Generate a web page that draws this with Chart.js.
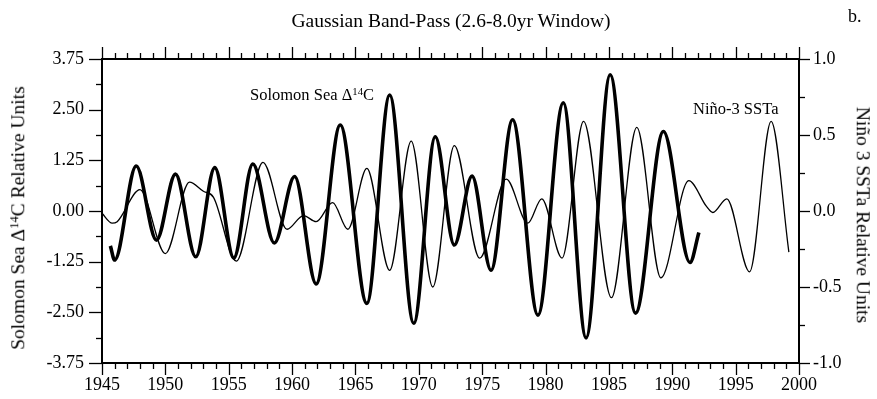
<!DOCTYPE html>
<html>
<head>
<meta charset="utf-8">
<script src="https://cdn.jsdelivr.net/npm/chart.js@4/dist/chart.umd.min.js"></script>
<style>
  html, body { margin: 0; padding: 0; background: #fff; }
  #wrap { position: relative; width: 877px; height: 399px; overflow: hidden; font-family: "Liberation Serif", "Times New Roman", serif; color: #000; }
  #c { position: absolute; left: 0; top: 0; }
  .t { position: absolute; white-space: nowrap; line-height: 1; }
  sup { font-size: 0.65em; vertical-align: 0.45em; line-height: 0; }
</style>
</head>
<body>
<div id="wrap">
  <canvas id="c" width="877" height="399"></canvas>
  <div class="t" id="title" style="left:451px; top:21px; transform:translate(-50%,-50%); font-size:19.5px;">Gaussian Band-Pass (2.6-8.0yr Window)</div>
  <div class="t" style="left:848px; top:7px; font-size:18px;">b.</div>
  <div class="t" style="left:18px; top:218px; transform:translate(-50%,-50%) rotate(-90deg); font-size:19.5px;">Solomon Sea Δ<sup>14</sup>C Relative Units</div>
  <div class="t" style="left:863px; top:215px; transform:translate(-50%,-50%) rotate(90deg); font-size:19.5px;">Niño 3 SSTa Relative Units</div>
  <div class="t" style="left:250px; top:87px; font-size:16.5px;">Solomon Sea Δ<sup>14</sup>C</div>
  <div class="t" style="left:693px; top:101px; font-size:16.5px;">Niño-3 SSTa</div>
</div>
<script>
// ---- data ----
const solomonYears = [1945.66, 1946.0, 1947.7, 1949.3, 1950.8, 1952.4, 1953.9, 1955.4, 1956.9, 1958.6, 1960.2, 1961.9, 1963.8, 1965.9, 1967.7, 1969.6, 1971.3, 1972.8, 1974.2, 1975.7, 1977.4, 1979.4, 1981.4, 1983.2, 1985.1, 1987.1, 1989.3, 1991.4, 1992.1];
const solomonC14   = [-0.86, -1.21, 1.11, -0.72, 0.91, -1.13, 1.07, -1.16, 1.16, -0.79, 0.85, -1.80, 2.12, -2.28, 2.86, -2.77, 1.83, -0.84, 0.86, -1.46, 2.25, -2.57, 2.67, -3.13, 3.36, -2.52, 1.96, -1.27, -0.53];

const ninoYears = [1945.0, 1945.8, 1946.2, 1948.0, 1950.0, 1951.9, 1953.0, 1953.8, 1955.6, 1957.7, 1959.6, 1960.9, 1961.9, 1963.2, 1964.4, 1965.9, 1967.7, 1969.4, 1971.1, 1972.8, 1974.8, 1976.9, 1978.6, 1979.7, 1981.3, 1983.0, 1985.2, 1987.2, 1989.1, 1991.3, 1992.7, 1993.2, 1994.3, 1996.1, 1997.8, 1999.2];
const ninoSSTa  = [-0.015, -0.08, -0.07, 0.14, -0.28, 0.19, 0.13, 0.09, -0.33, 0.32, -0.12, -0.03, -0.07, 0.055, -0.12, 0.28, -0.39, 0.46, -0.50, 0.43, -0.31, 0.21, -0.08, 0.08, -0.31, 0.59, -0.57, 0.55, -0.44, 0.20, 0.03, -0.01, 0.08, -0.40, 0.59, -0.27];

// axis ranges / tick steps
const xRange = [1945, 2000], xMajor = 5, xMinor = 1;
const leftRange = [-3.75, 3.75], leftMajor = 1.25, leftMinor = 0.625;
const rightRange = [-1.0, 1.0], rightMajor = 0.5, rightMinor = 0.25;

const toPts = (xs, ys) => xs.map((x, i) => ({ x: x, y: ys[i] }));

Chart.defaults.font.family = '"Liberation Serif", "Times New Roman", serif';
Chart.defaults.font.size = 18;
Chart.defaults.color = '#000';

const frameTicks = {
  id: 'frameTicks',
  afterDraw(chart) {
    const { ctx, chartArea: a, scales } = chart;
    const x = scales.x, y = scales.y, y2 = scales.y2;
    ctx.save();
    ctx.strokeStyle = '#000';
    ctx.lineWidth = 1.3;
    const ln = (x1, y1, x2, y2_) => { ctx.beginPath(); ctx.moveTo(x1, y1); ctx.lineTo(x2, y2_); ctx.stroke(); };
    const eps = 1e-6;
    for (let i = 0; xRange[0] + i * xMinor <= xRange[1] + eps; i++) {
      const v = xRange[0] + i * xMinor;
      const px = Math.round(x.getPixelForValue(v)) + 0.5;
      const major = Math.abs((v - xRange[0]) / xMajor - Math.round((v - xRange[0]) / xMajor)) < eps;
      const L = major ? 12 : 6;
      ln(px, a.bottom, px, a.bottom + L);
      ln(px, a.top, px, a.top - L);
    }
    for (let i = 0; leftRange[0] + i * leftMinor <= leftRange[1] + eps; i++) {
      const v = leftRange[0] + i * leftMinor;
      const py = Math.round(y.getPixelForValue(v)) + 0.5;
      const major = i % 2 === 0;
      ln(a.left, py, a.left - (major ? 13 : 6), py);
    }
    for (let i = 0; rightRange[0] + i * rightMinor <= rightRange[1] + eps; i++) {
      const v = rightRange[0] + i * rightMinor;
      const py = Math.round(y2.getPixelForValue(v)) + 0.5;
      const major = i % 2 === 0;
      ln(a.right, py, a.right + (major ? 11 : 6), py);
    }
    ctx.lineWidth = 2;
    ctx.strokeRect(a.left, a.top, a.right - a.left, a.bottom - a.top);
    ctx.restore();
  }
};

new Chart(document.getElementById('c'), {
  type: 'line',
  data: {
    datasets: [
      {
        label: 'Solomon Sea Δ14C',
        data: toPts(solomonYears, solomonC14),
        yAxisID: 'y',
        borderColor: '#000',
        borderWidth: 3.6,
        pointRadius: 0,
        cubicInterpolationMode: 'monotone',
        fill: false
      },
      {
        label: 'Niño-3 SSTa',
        data: toPts(ninoYears, ninoSSTa),
        yAxisID: 'y2',
        borderColor: '#000',
        borderWidth: 1.3,
        pointRadius: 0,
        cubicInterpolationMode: 'monotone',
        fill: false
      }
    ]
  },
  options: {
    responsive: false,
    devicePixelRatio: 1,
    animation: false,
    layout: { padding: 0 },
    plugins: { legend: { display: false }, tooltip: { enabled: false }, title: { display: false } },
    scales: {
      x: {
        type: 'linear', position: 'bottom', min: xRange[0], max: xRange[1],
        grid: { display: false, drawTicks: false }, border: { display: false },
        ticks: { stepSize: xMajor, autoSkip: false, maxRotation: 0, padding: 11, callback: v => String(Math.round(v)) },
        afterFit: s => { s.height = 36; }
      },
      xTop: {
        type: 'linear', position: 'top', min: xRange[0], max: xRange[1],
        grid: { display: false, drawTicks: false }, border: { display: false },
        ticks: { display: false },
        afterFit: s => { s.height = 59; }
      },
      y: {
        type: 'linear', position: 'left', min: leftRange[0], max: leftRange[1],
        grid: { display: false, drawTicks: false }, border: { display: false },
        ticks: { stepSize: leftMajor, padding: 18, callback: v => Number(v).toFixed(2) },
        afterFit: s => { s.width = 102; }
      },
      y2: {
        type: 'linear', position: 'right', min: rightRange[0], max: rightRange[1],
        grid: { display: false, drawTicks: false }, border: { display: false },
        ticks: { stepSize: rightMajor, padding: 14, callback: v => Number(v).toFixed(1) },
        afterFit: s => { s.width = 78; }
      }
    }
  },
  plugins: [frameTicks]
});
</script>
</body>
</html>
